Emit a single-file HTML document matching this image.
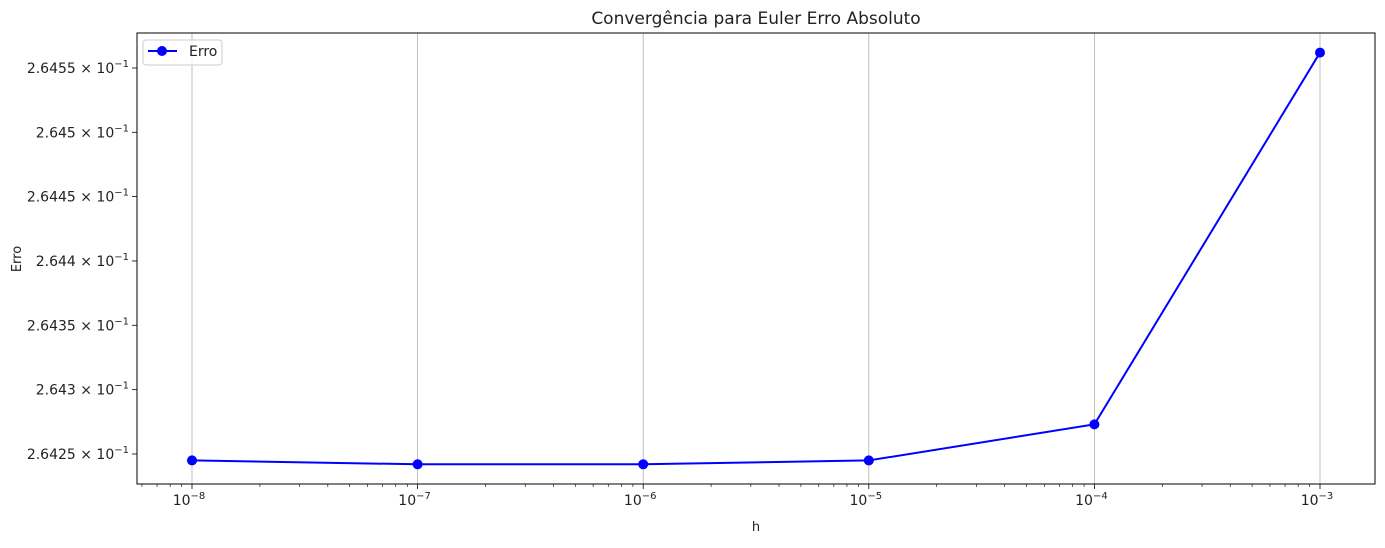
<!DOCTYPE html>
<html><head><meta charset="utf-8"><style>
body{margin:0;background:#fff;font-family:"Liberation Sans","DejaVu Sans",sans-serif}
svg text{font-family:"DejaVu Sans","Liberation Sans",sans-serif;fill:#222}
</style></head><body>
<svg id="chart" width="1385" height="543" xmlns="http://www.w3.org/2000/svg">
<text x="756" y="24" font-size="17" text-anchor="middle">Convergência para Euler Erro Absoluto</text>
<text x="756" y="531" font-size="13" text-anchor="middle">h</text>
<text transform="translate(21,259) rotate(-90)" font-size="13" text-anchor="middle">Erro</text>
<g id="grid"></g><g id="axes"></g><g id="series"></g>
<g>
<rect x="143" y="40" width="79" height="25" rx="3" fill="#fff" fill-opacity="0.8" stroke="#ccc"/>
<line x1="148" y1="51" x2="177" y2="51" stroke="#0000ff" stroke-width="2"/>
<circle cx="162" cy="51" r="5" fill="#0000ff"/>
<text x="189" y="56" font-size="14">Erro</text>
</g>
</svg>
<script>
const hValues=[1e-8,1e-7,1e-6,1e-5,1e-4,1e-3];
const errValues=[0.264245,0.264242,0.264242,0.264245,0.264273,0.264562];
const xTickExps=[-8,-7,-6,-5,-4,-3];
const yTickValues=[0.26425,0.2643,0.26435,0.2644,0.26445,0.2645,0.26455];
const yTickLabels=["2.6425","2.643","2.6435","2.644","2.6445","2.645","2.6455"];
const NS="http://www.w3.org/2000/svg";
const L=137,R=1375,T=33,B=484;
function xs(v){return 192+(Math.log10(v)+8)*225.6;}
const ly0=Math.log10(0.26425),ly1=Math.log10(0.26455);
function ys(v){return 454-(Math.log10(v)-ly0)/(ly1-ly0)*386;}
function mk(tag,attrs,parent){const e=document.createElementNS(NS,tag);for(const k in attrs)e.setAttribute(k,attrs[k]);parent.appendChild(e);return e;}
const grid=document.getElementById('grid'),axes=document.getElementById('axes'),series=document.getElementById('series');
xTickExps.forEach(function(ex){
 const x=xs(Math.pow(10,ex));
 const g=mk('line',{x1:x,x2:x,y1:T,y2:B,stroke:'#b0b0b0','stroke-width':0.8},grid);
 
 
 mk('line',{x1:x,x2:x,y1:B,y2:B+5,stroke:'#000','stroke-width':0.8},axes);
 const t=mk('text',{x:x-3,y:B+21,'font-size':14,'text-anchor':'middle'},axes);
 
 
 t.textContent='10';
 const s=mk('tspan',{dy:-6,'font-size':10},t);s.textContent='\u2212'+(-ex);
});
for(let ex=-9;ex<=-3;ex++){for(let m=2;m<=9;m++){const x=xs(m*Math.pow(10,ex));if(x>L&&x<R)mk('line',{x1:x,x2:x,y1:B,y2:B+3,stroke:'#000','stroke-width':0.6},axes);}}
yTickValues.forEach(function(v,i){
 const y=ys(v);
 mk('line',{x1:L-5,x2:L,y1:y,y2:y,stroke:'#000','stroke-width':0.8},axes);
 const t=mk('text',{x:L-8,y:y+5,'font-size':14,'text-anchor':'end'},axes);
 
 
 t.textContent=yTickLabels[i]+' \u00d7 10';
 const s=mk('tspan',{dy:-6,'font-size':10},t);s.textContent='\u22121';
});
const frame=mk('rect',{x:L,y:T,width:R-L,height:B-T,fill:'none',stroke:'#000','stroke-width':1},axes);


const pts=hValues.map(function(h,i){return xs(h)+','+ys(errValues[i]);}).join(' ');
const line=mk('polyline',{points:pts,fill:'none',stroke:'#0000ff','stroke-width':2},series);


hValues.forEach(function(h,i){
 const c=mk('circle',{cx:xs(h),cy:ys(errValues[i]),r:5,fill:'#0000ff'},series);
 
 
});
</script>
</body></html>
